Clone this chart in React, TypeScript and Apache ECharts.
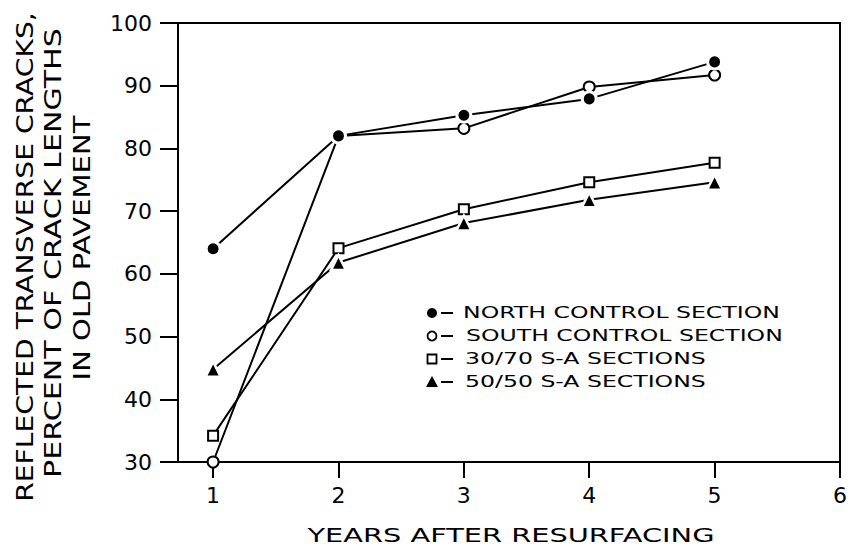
import React, { useEffect, useRef } from "react";
import * as echarts from "echarts";

const years = [1, 2, 3, 4, 5];
const xTicks = [1, 2, 3, 4, 5, 6];
const northControl = [64, 82, 85.3, 87.9, 93.8];
const southControl = [30, 82, 83.2, 89.8, 91.7];
const sa3070 = [34.2, 64.1, 70.3, 74.6, 77.7];
const sa5050 = [44.8, 61.8, 68.1, 71.8, 74.6];

const seriesNames = [
  "NORTH CONTROL SECTION",
  "SOUTH CONTROL SECTION",
  "30/70 S-A SECTIONS",
  "50/50 S-A SECTIONS",
];
const yTitleLines = [
  "REFLECTED TRANSVERSE CRACKS,",
  "PERCENT OF CRACK LENGTHS",
  "IN OLD PAVEMENT",
];
const xTitle = "YEARS AFTER RESURFACING";

const FAMILY = '"DejaVu Sans", sans-serif';

function measure(text: string, size: number): number {
  const c = document.createElement("canvas").getContext("2d");
  if (!c) return text.length * size * 0.65;
  c.font = `${size}px ${FAMILY}`;
  return c.measureText(text).width;
}

export default function App() {
  const ref = useRef<HTMLDivElement>(null);
  useEffect(() => {
    if (!ref.current) return;
    const chart = echarts.init(ref.current, undefined, { renderer: "svg" });

    const pair = (vals: number[]) => years.map((x, i) => [x, vals[i]]);

    // y title lines: [centerX, centerY, target length]
    const yTitleGeom = [
      [25, 257, 490],
      [53, 253, 450],
      [82, 248, 265],
    ];
    const yFont = 23;
    const yTitleEls = yTitleLines.map((t, i) => {
      const [cx, cy, len] = yTitleGeom[i];
      return {
        type: "text",
        x: cx,
        y: cy,
        rotation: Math.PI / 2,
        scaleX: len / measure(t, yFont),
        style: {
          text: t,
          fontSize: yFont,
          fontFamily: FAMILY,
          fill: "#000",
          align: "center",
          verticalAlign: "middle",
          textAlign: "center",
          textVerticalAlign: "middle",
        },
      };
    });

    const xFont = 20;
    const xTitleEl = {
      type: "text",
      x: 511,
      y: 535,
      scaleX: 407 / measure(xTitle, xFont),
      style: {
        text: xTitle,
        fontSize: xFont,
        fontFamily: FAMILY,
        fill: "#000",
        align: "center",
        verticalAlign: "middle",
        textAlign: "center",
        textVerticalAlign: "middle",
      },
    };

    // legend
    const legFont = 15;
    const legScale = (780 - 463) / measure(seriesNames[0], legFont);
    const rows = [313, 336, 359, 382];
    const textX = [463, 466, 465, 465];
    const mx = 432;
    const legendEls: any[] = [];
    rows.forEach((ry, i) => {
      legendEls.push({
        type: "text",
        x: textX[i],
        y: ry,
        scaleX: legScale,
        style: {
          text: seriesNames[i],
          fontSize: legFont,
          fontFamily: FAMILY,
          fill: "#000",
          align: "left",
          verticalAlign: "middle",
          textAlign: "left",
          textVerticalAlign: "middle",
        },
      });
      legendEls.push({
        type: "line",
        shape: { x1: 441, y1: ry, x2: 453, y2: ry },
        style: { stroke: "#000", lineWidth: 2 },
      });
    });
    legendEls.push({
      type: "circle",
      shape: { cx: mx, cy: rows[0], r: 5 },
      style: { fill: "#000" },
    });
    legendEls.push({
      type: "circle",
      shape: { cx: mx, cy: rows[1], r: 4.5 },
      style: { fill: "#fff", stroke: "#000", lineWidth: 1.8 },
    });
    legendEls.push({
      type: "rect",
      shape: { x: mx - 4.5, y: rows[2] - 4.5, width: 9, height: 9 },
      style: { fill: "#fff", stroke: "#000", lineWidth: 1.8 },
    });
    legendEls.push({
      type: "polygon",
      shape: {
        points: [
          [mx, rows[3] - 6],
          [mx - 6, rows[3] + 5],
          [mx + 6, rows[3] + 5],
        ],
      },
      style: { fill: "#000" },
    });

    const lineStyle = { color: "#000", width: 2 };

    chart.setOption({
      animation: false,
      backgroundColor: "#fff",
      grid: {
        left: 178,
        right: 10,
        top: 23,
        bottom: 94,
        show: true,
        borderColor: "#000",
        borderWidth: 2,
        backgroundColor: "transparent",
      },
      xAxis: {
        type: "value",
        min: 0.72,
        max: 6,
        axisLine: { show: true, onZero: false, lineStyle: { color: "#000", width: 2 } },
        axisTick: {
          show: true,
          length: 16,
          customValues: xTicks,
          lineStyle: { color: "#000", width: 2 },
        },
        axisLabel: {
          customValues: xTicks,
          margin: 22,
          fontSize: 22,
          fontFamily: FAMILY,
          color: "#000",
        },
        splitLine: { show: false },
      },
      yAxis: {
        type: "value",
        min: 30,
        max: 100,
        interval: 10,
        axisLine: { show: true, lineStyle: { color: "#000", width: 2 } },
        axisTick: { show: true, length: 18, lineStyle: { color: "#000", width: 2 } },
        axisLabel: {
          margin: 26,
          fontSize: 22,
          fontFamily: FAMILY,
          color: "#000",
        },
        splitLine: { show: false },
      },
      graphic: [...yTitleEls, xTitleEl, ...legendEls],
      series: [
        {
          name: seriesNames[1],
          type: "line",
          data: pair(southControl),
          symbol: "circle",
          symbolSize: 11,
          itemStyle: { color: "#fff", borderColor: "#000", borderWidth: 2 },
          lineStyle,
          z: 2,
        },
        {
          name: seriesNames[0],
          type: "line",
          data: pair(northControl),
          symbol: "circle",
          symbolSize: 14,
          itemStyle: { color: "#000", borderColor: "#fff", borderWidth: 3 },
          lineStyle,
          z: 3,
        },
        {
          name: seriesNames[2],
          type: "line",
          data: pair(sa3070),
          symbol: "rect",
          symbolSize: 10,
          itemStyle: { color: "#fff", borderColor: "#000", borderWidth: 2 },
          lineStyle,
          z: 2,
        },
        {
          name: seriesNames[3],
          type: "line",
          data: pair(sa5050),
          symbol: "triangle",
          symbolSize: 15,
          itemStyle: { color: "#000", borderColor: "#fff", borderWidth: 2.5 },
          lineStyle,
          z: 2,
        },
      ],
    });
    return () => chart.dispose();
  }, []);
  return (
    <div
      ref={ref}
      style={{ position: "fixed", left: 0, top: 0, width: 850, height: 556 }}
    />
  );
}
